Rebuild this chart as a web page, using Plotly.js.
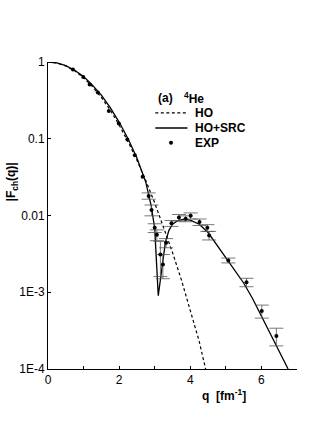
<!DOCTYPE html>
<html>
<head>
<meta charset="utf-8">
<script src="https://cdn.plot.ly/plotly-3.0.1.min.js"></script>
<style>
  html, body { margin: 0; padding: 0; background: #fff; }
  #myPlot { width: 327px; height: 436px; }
</style>
</head>
<body>
<div id="myPlot"></div>
<script>
// HO curve (dashed)
const hoQ = [0, 0.25, 0.5, 0.75, 1.0, 1.25, 1.5, 1.75, 2.0, 2.25, 2.5, 2.75, 3.0, 3.25, 3.5, 3.75, 4.0, 4.25, 4.43];
const hoF = [1, 0.971, 0.889, 0.767, 0.624, 0.478, 0.345, 0.236, 0.151, 0.0915, 0.0525, 0.0285, 0.0146, 0.0071, 0.0033, 0.00145, 0.00058, 0.00023, 0.0001];

// HO+SRC curve (solid)
const srcQ = [0, 0.25, 0.5, 0.75, 1.0, 1.25, 1.5, 1.75, 2.0, 2.25, 2.5, 2.75, 2.9, 3.0, 3.1, 3.2, 3.3, 3.4, 3.5, 3.65, 3.8, 4.0, 4.25, 4.5, 4.75, 5.0, 5.25, 5.5, 5.75, 6.0, 6.25, 6.5, 6.75];
const srcF = [1, 0.973, 0.895, 0.78, 0.645, 0.50, 0.37, 0.255, 0.165, 0.100, 0.056, 0.027, 0.0135, 0.0068, 0.0009, 0.0022, 0.0045, 0.0064, 0.0077, 0.0086, 0.0089, 0.0087, 0.0077, 0.0060, 0.0041, 0.00275, 0.0019, 0.00132, 0.00083, 0.00049, 0.000295, 0.000174, 0.0001];

// experiment
const expQ = [0.70, 0.99, 1.17, 1.40, 1.71, 1.99, 2.23, 2.44, 2.66, 2.83, 2.91, 3.00, 3.06, 3.16, 3.23, 3.32, 3.47, 3.68, 3.87, 4.01, 4.26, 4.48, 4.53, 5.07, 5.58, 6.01, 6.42];
const expF = [0.80, 0.64, 0.51, 0.40, 0.23, 0.158, 0.098, 0.061, 0.032, 0.018, 0.0118, 0.0069, 0.0056, 0.0031, 0.0023, 0.0044, 0.0079, 0.0094, 0.0091, 0.0099, 0.0082, 0.0069, 0.0055, 0.0026, 0.00135, 0.00057, 0.00027];
const expErr = [NaN, NaN, NaN, NaN, NaN, NaN, NaN, NaN, NaN, 0.0017, 0.0019, 0.0009, 0.0009, 0.0015, 0.0008, 0.0006, 0.0007, 0.0009, 0.0008, 0.0009, 0.0008, 0.0007, 0.0007, 0.00019, 0.00017, 0.00011, 0.00007];

// ticks
const yTickVals = [1e-4, 1e-3, 0.01, 0.1, 1];
const yTickText = ['1E-4', '1E-3', '0.01', '0.1', '1'];
const xTickVals = [0, 2, 4, 6];

const fnt = 'Liberation Sans, Arial, sans-serif';

const data = [{
    x: hoQ, y: hoF, mode: 'lines', name: 'HO',
    line: {color: '#000', width: 1.2, dash: '3px,2.5px'}
}, {
    x: srcQ, y: srcF, mode: 'lines', name: 'HO+SRC',
    line: {color: '#000', width: 1.3}
}, {
    x: expQ, y: expF, mode: 'markers', name: 'EXP',
    marker: {color: '#000', size: 4},
    error_y: {type: 'data', array: expErr, visible: true, color: '#555', thickness: 0.8, width: 7}
}];

const ann = (text, x, y, extra) => Object.assign({
    text: text, x: x, y: y, xref: 'paper', yref: 'paper',
    xanchor: 'left', yanchor: 'middle', showarrow: false,
    font: {family: fnt, size: 12, color: '#000', weight: 'bold'}
}, extra || {});

const layout = {
    width: 327, height: 436,
    margin: {l: 48, r: 30, t: 62, b: 67},
    paper_bgcolor: '#fff', plot_bgcolor: '#fff',
    showlegend: false,
    font: {family: fnt, size: 12, color: '#000'},
    xaxis: {
        range: [0, 7], showgrid: false, zeroline: false,
        showline: true, linecolor: '#000', linewidth: 1,
        ticks: 'inside', ticklen: 3, tickcolor: '#000',
        tickvals: xTickVals,
        minor: {dtick: 1, ticks: 'inside', ticklen: 3, tickcolor: '#000', showgrid: false}
    },
    yaxis: {
        type: 'log', range: [-4, 0], showgrid: false, zeroline: false,
        showline: true, linecolor: '#000', linewidth: 1,
        ticks: 'inside', ticklen: 3, tickcolor: '#000',
        tickvals: yTickVals, ticktext: yTickText
    },
    annotations: [
        ann('(a)', 0.435, 0.882),
        ann('<sup>4</sup>He', 0.54, 0.882),
        ann('HO', 0.584, 0.834),
        ann('HO+SRC', 0.584, 0.785),
        ann('EXP', 0.584, 0.737),
        ann('q  [fm<sup>-1</sup>]', 0.612, -0.084),
        ann('|F<sub>ch</sub>(q)|', -0.143, 0.609, {xanchor: 'center', textangle: -90})
    ],
    shapes: [
        {type: 'line', xref: 'paper', yref: 'paper', x0: 0.431, x1: 0.56, y0: 0.834, y1: 0.834,
         line: {color: '#000', width: 1.2, dash: '3px,2.5px'}},
        {type: 'line', xref: 'paper', yref: 'paper', x0: 0.431, x1: 0.56, y0: 0.785, y1: 0.785,
         line: {color: '#000', width: 1.3}},
        {type: 'circle', xref: 'paper', yref: 'paper', xsizemode: 'pixel', ysizemode: 'pixel',
         xanchor: 0.494, yanchor: 0.737, x0: -2, x1: 2, y0: -2, y1: 2,
         fillcolor: '#000', line: {width: 0}}
    ]
};

Plotly.newPlot('myPlot', data, layout, {displayModeBar: false, staticPlot: true});
</script>
</body>
</html>
